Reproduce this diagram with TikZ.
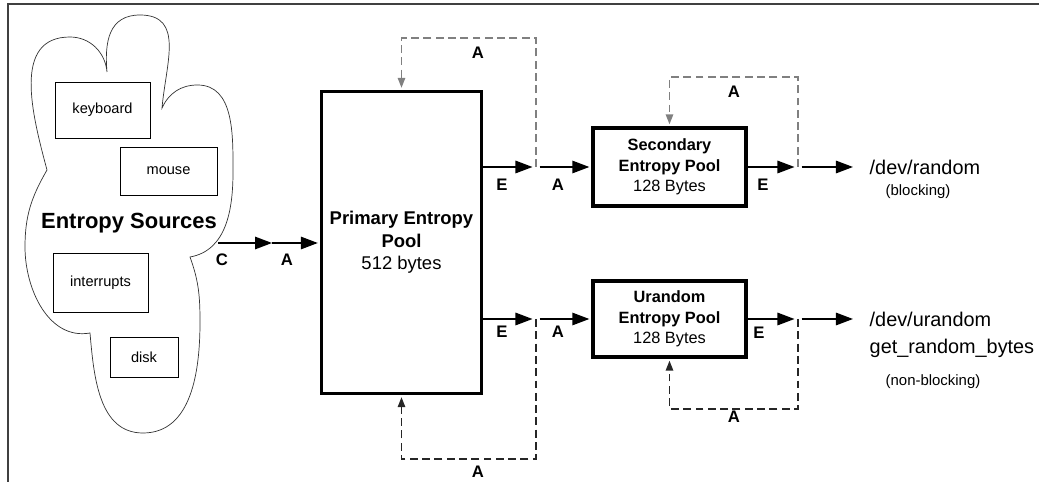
\documentclass[tikz,border=0pt]{standalone}
\usepackage{fontspec}
\setmainfont{Liberation Sans}
\usetikzlibrary{arrows.meta}

\begin{document}
\begin{tikzpicture}[
    >={Triangle[length=3.4mm,width=2.5mm]},
    src/.style={draw=black, thin, minimum width=1.9cm, minimum height=1.12cm,
      font=\fontsize{8.3}{10}\selectfont},
    pool/.style={draw=black, line width=2.2pt, align=center,
      font=\fontsize{9.3}{11.7}\selectfont},
    ptr/.style={->, line width=.8pt, draw=black},
    fb/.style={-{Triangle[length=2mm,width=1.5mm]}, line width=.8pt,
      dash pattern=on 4.5pt off 2.5pt},
    tag/.style={font=\bfseries\fontsize{9.5}{10}\selectfont},
    dev/.style={anchor=west, font=\fontsize{11.3}{13}\selectfont},
    note/.style={font=\fontsize{8.5}{10}\selectfont},
  ]
    \useasboundingbox (0,0) rectangle (20.78,9.64);
    \draw[line width=1.2pt, black!75] (0.16,0) -- (0.16,9.56) -- (20.78,9.56);

    % entropy sources
    \draw[thin, black!80] (2.14,8.20) to[out=95,in=180,looseness=1.2] (2.80,9.34)
      to[out=0,in=85,looseness=1.2] (3.24,7.48) to[out=65,in=180] (3.95,7.94)
      to[out=0,in=90] (4.66,6.20) to[out=-90,in=10] (3.80,4.50)
      to[out=-70,in=90] (4.00,3.20) to[out=-90,in=0] (2.86,0.98)
      to[out=180,in=-85] (1.80,2.98) to[out=190,in=-90] (0.50,4.70)
      to[out=90,in=-120] (0.94,6.24) to[out=105,in=180,looseness=1.1] (1.40,8.90)
      to[out=0,in=95] (2.14,8.20);
    \node[src] (kbd) at (2.05,7.44) {keyboard};
    \node[src, minimum width=1.94cm, minimum height=.96cm] (mouse) at (3.37,6.22) {mouse};
    \node[src, minimum height=1.18cm] (irq) at (2.01,3.99) {interrupts};
    \node[src, minimum width=1.36cm, minimum height=.8cm] (disk) at (2.88,2.50) {disk};
    \node[font=\bfseries\fontsize{12.5}{14}\selectfont] (es) at (2.58,5.18) {Entropy Sources};

    \coordinate (cl) at (4.36,4.78);
    \coordinate (ca) at (5.44,4.78);
    \node[tag] (tC) at (4.44,4.44) {C};
    \node[tag] (tA0) at (5.74,4.44) {A};

    % primary pool
    \node[pool, minimum width=3.2cm, minimum height=6.04cm,
      font=\fontsize{10.5}{12.8}\selectfont] (prim) at (8.03,4.79)
      {\textbf{Primary Entropy}\\\textbf{Pool}\\512 bytes};
    \draw[ptr] (cl) -- (ca);
    \draw[ptr, shorten >=1pt] (ca) -- (prim.west |- ca);

    \coordinate (jt) at (10.72,6.30);
    \coordinate (jb) at (10.72,3.26);
    \coordinate (ptop) at (8.03,8.88);
    \coordinate (pbot) at (8.03,0.46);

    % secondary and urandom pools
    \node[pool, minimum width=3.06cm, minimum height=1.56cm] (sec) at (13.39,6.30)
      {\textbf{Secondary}\\\textbf{Entropy Pool}\\128 Bytes};
    \node[pool, minimum width=3.06cm, minimum height=1.52cm] (uran) at (13.39,3.26)
      {\textbf{Urandom}\\\textbf{Entropy Pool}\\128 Bytes};

    \draw[ptr, shorten >=2pt] (prim.east |- jt) -- (jt);
    \draw[ptr, shorten >=1pt] ([xshift=2pt]jt) -- (sec.west);
    \draw[ptr, shorten >=2pt] (prim.east |- jb) -- (jb);
    \draw[ptr, shorten >=1pt] ([xshift=2pt]jb) -- (uran.west);
    \draw[fb, black!50, shorten >=1pt] (jt) |- (ptop) -- (prim.north);
    \draw[fb, black!85, shorten >=1pt] (jb) |- (pbot) -- (prim.south);
    \node[tag] (tE1) at (10.04,5.94) {E};
    \node[tag] (tA1) at (11.16,5.94) {A};
    \node[tag] (tA2) at (9.56,8.58) {A};
    \node[tag] (tE2) at (10.04,3.00) {E};
    \node[tag] (tA3) at (11.16,3.00) {A};
    \node[tag] (tA4) at (9.56,0.20) {A};

    % outputs
    \coordinate (js) at (15.96,6.30);
    \coordinate (ju) at (15.96,3.26);
    \coordinate (stop) at (13.39,8.10);
    \coordinate (ubot) at (13.39,1.46);
    \node[dev] (rnd) at (17.27,6.30) {/dev/random};
    \node[note] (blk) at (18.36,5.80) {(blocking)};
    \node[dev] (urnd) at (17.27,3.26) {/dev/urandom};
    \node[dev] (grb) at (17.27,2.68) {get\_random\_bytes};
    \node[note] (nblk) at (18.66,2.00) {(non-blocking)};

    \draw[ptr, shorten >=2pt] (sec) -- (js);
    \draw[ptr, shorten >=6pt] ([xshift=2pt]js) -- (rnd.west);
    \draw[ptr, shorten >=2pt] (uran) -- (ju);
    \draw[ptr, shorten >=6pt] ([xshift=2pt]ju) -- (urnd.west);
    \draw[fb, black!50, shorten >=1pt] (js) |- (stop) -- (sec.north);
    \draw[fb, black!85, shorten >=1pt] (ju) |- (ubot) -- (uran.south);
    \node[tag] (tE3) at (15.26,5.94) {E};
    \node[tag] (tA5) at (14.68,7.80) {A};
    \node[tag] (tE4) at (15.18,2.98) {E};
    \node[tag] (tA6) at (14.68,1.30) {A};
\end{tikzpicture}
\end{document}
